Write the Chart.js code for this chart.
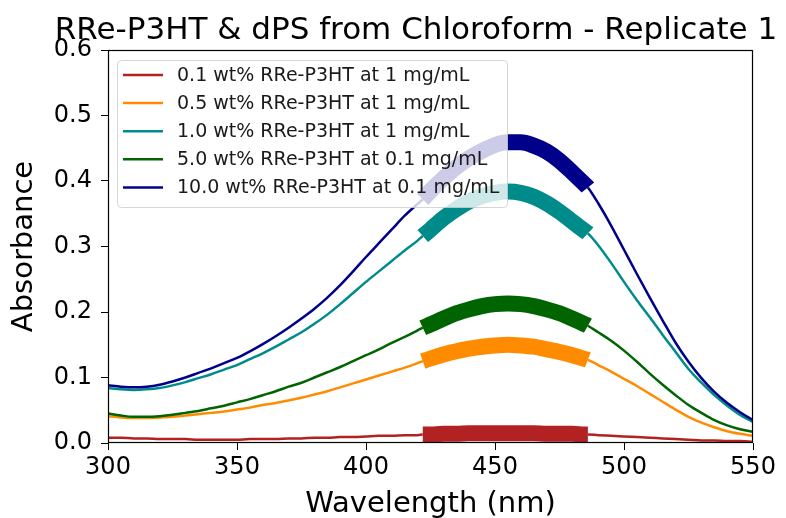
<!DOCTYPE html>
<html>
<head>
<meta charset="utf-8">
<script src="https://cdn.jsdelivr.net/npm/chart.js@4.4.1/dist/chart.umd.min.js"></script>
<style>
  html, body { margin: 0; padding: 0; background: #ffffff; }
  canvas { display: block; }
</style>
</head>
<body>
<canvas id="chart" width="786" height="518"></canvas>
<script>
// Wavelength grid (nm); 422 and 486 mark the edges of the highlighted peak band
const wavelengths = [
  300, 305, 310, 315, 320, 325, 330, 335, 340, 345, 350, 355, 360, 365, 370, 375,
  380, 385, 390, 395, 400, 405, 410, 415, 420,
  422,
  425, 430, 435, 440, 445, 450, 455, 460, 465, 470, 475, 480, 485,
  486,
  490, 495, 500, 505, 510, 515, 520, 525, 530, 535, 540, 545, 550
];

const seriesLabels = [
  '0.1 wt% RRe-P3HT at 1 mg/mL',
  '0.5 wt% RRe-P3HT at 1 mg/mL',
  '1.0 wt% RRe-P3HT at 1 mg/mL',
  '5.0 wt% RRe-P3HT at 0.1 mg/mL',
  '10.0 wt% RRe-P3HT at 0.1 mg/mL'
];

// Absorbance spectra
const abs01 = [
  .008, .008, .007, .007, .006, .006, .006, .005, .005, .005, .005, .006, .006, .006, .007, .007,
  .008, .008, .009, .009, .010, .011, .011, .012, .012,
  .013,
  .013, .014, .014, .015, .015, .015, .015, .015, .015, .014, .014, .014, .013,
  .013,
  .012, .011, .010, .009, .008, .007, .006, .005, .004, .004, .003, .003, .002
];
const abs05 = [
  .041, .039, .038, .038, .039, .040, .042, .044, .046, .048, .051, .054, .058, .061, .065, .069,
  .074, .079, .085, .091, .097, .103, .109, .115, .122,
  .125,
  .129, .135, .140, .144, .147, .149, .150, .149, .147, .143, .139, .134, .128,
  .127,
  .119, .109, .098, .087, .075, .063, .051, .040, .031, .024, .018, .014, .011
];
const abs10 = [
  .084, .082, .081, .082, .084, .088, .093, .099, .105, .112, .119, .128, .137, .147, .158, .169,
  .182, .196, .212, .229, .246, .262, .278, .294, .309,
  .316,
  .326, .343, .357, .369, .377, .382, .384, .382, .376, .366, .353, .338, .323,
  .320,
  .302, .275, .246, .218, .192, .165, .139, .113, .092, .073, .057, .043, .032
];
const abs50 = [
  .045, .042, .040, .040, .041, .043, .046, .049, .053, .057, .062, .067, .073, .079, .086, .092,
  .100, .108, .116, .125, .134, .143, .153, .162, .172,
  .176,
  .181, .190, .198, .204, .209, .212, .213, .212, .209, .204, .198, .190, .181,
  .179,
  .169, .156, .141, .124, .106, .089, .073, .058, .046, .035, .027, .021, .017
];
const abs100 = [
  .088, .086, .085, .086, .089, .094, .100, .107, .114, .122, .130, .140, .151, .163, .176, .190,
  .205, .222, .241, .262, .284, .305, .326, .347, .365,
  .372,
  .385, .404, .421, .435, .446, .455, .459, .459, .454, .445, .431, .413, .394,
  .390,
  .366, .332, .295, .258, .222, .187, .153, .124, .099, .078, .061, .047, .035
];

const xTicks = [300, 350, 400, 450, 500, 550];
const yTicks = [0.0, 0.1, 0.2, 0.3, 0.4, 0.5, 0.6];

// Peak band drawn with a heavy stroke
const bandStart = 422;
const bandEnd = 486;

const seriesValues = [abs01, abs05, abs10, abs50, abs100];
const seriesColors = ['#b22222', '#ff8c00', '#008b8b', '#006400', '#00008b'];

const FONT = "'DejaVu Sans', 'Liberation Sans', sans-serif";
const THIN = 2.5;
const THICK = 16;

const datasets = seriesValues.map((vals, i) => ({
  label: seriesLabels[i],
  data: wavelengths.map((w, k) => ({ x: w, y: vals[k] })),
  borderColor: seriesColors[i],
  backgroundColor: seriesColors[i],
  borderWidth: THIN,
  pointRadius: 0,
  fill: false,
  cubicInterpolationMode: 'monotone',
  borderCapStyle: 'butt',
  order: seriesValues.length - i,
  segment: {
    borderWidth: ctx => (ctx.p0.parsed.x >= bandStart && ctx.p1.parsed.x <= bandEnd) ? THICK : undefined
  }
}));

// Title, frame and in-plot legend
const decorations = {
  id: 'decorations',
  afterDatasetsDraw(chart) {
    const { ctx, chartArea: a } = chart;
    ctx.save();

    // frame on all four sides
    ctx.strokeStyle = '#000';
    ctx.lineWidth = 1.2;
    ctx.strokeRect(a.left + 0.5, a.top + 0.5, a.right - a.left - 1, a.bottom - a.top - 1);

    // legend box
    const bx = 117.5, by = 60.5, bw = 390, bh = 147, r = 4;
    ctx.beginPath();
    ctx.moveTo(bx + r, by);
    ctx.lineTo(bx + bw - r, by);
    ctx.quadraticCurveTo(bx + bw, by, bx + bw, by + r);
    ctx.lineTo(bx + bw, by + bh - r);
    ctx.quadraticCurveTo(bx + bw, by + bh, bx + bw - r, by + bh);
    ctx.lineTo(bx + r, by + bh);
    ctx.quadraticCurveTo(bx, by + bh, bx, by + bh - r);
    ctx.lineTo(bx, by + r);
    ctx.quadraticCurveTo(bx, by, bx + r, by);
    ctx.closePath();
    ctx.fillStyle = 'rgba(255,255,255,0.8)';
    ctx.fill();
    ctx.strokeStyle = 'rgba(204,204,204,0.8)';
    ctx.lineWidth = 1;
    ctx.stroke();

    ctx.font = '19px ' + FONT;
    ctx.textBaseline = 'middle';
    ctx.textAlign = 'left';
    seriesLabels.forEach((lab, i) => {
      const y = 75 + i * 28.1;
      ctx.strokeStyle = seriesColors[i];
      ctx.lineWidth = THIN;
      ctx.beginPath();
      ctx.moveTo(123, y);
      ctx.lineTo(163, y);
      ctx.stroke();
      ctx.fillStyle = '#1a1a1a';
      ctx.fillText(lab, 177, y + 1);
    });

    // chart title
    ctx.fillStyle = '#000';
    ctx.font = '31px ' + FONT;
    ctx.textAlign = 'center';
    ctx.textBaseline = 'alphabetic';
    ctx.fillText('RRe-P3HT & dPS from Chloroform - Replicate 1', 416, 39);

    ctx.restore();
  }
};

new Chart(document.getElementById('chart'), {
  type: 'line',
  data: { datasets },
  options: {
    responsive: false,
    devicePixelRatio: 1,
    animation: false,
    events: [],
    layout: { padding: { top: 50, right: 33, left: 0, bottom: 0 } },
    plugins: {
      legend: { display: false },
      title: { display: false },
      tooltip: { enabled: false }
    },
    scales: {
      x: {
        type: 'linear',
        min: 300,
        max: 550,
        afterBuildTicks: s => { s.ticks = xTicks.map(v => ({ value: v })); },
        afterFit: s => { s.height = 75; },
        ticks: {
          color: '#000',
          font: { family: FONT, size: 24 },
          padding: 3,
          maxRotation: 0,
          autoSkip: false
        },
        grid: { display: true, drawOnChartArea: false, drawTicks: true, tickLength: 7, color: '#000', lineWidth: 1 },
        border: { display: false },
        title: {
          display: true,
          text: 'Wavelength (nm)',
          color: '#000',
          font: { family: FONT, size: 29, lineHeight: 1 },
          padding: { top: 0, bottom: -1 }
        }
      },
      y: {
        min: 0,
        max: 0.6,
        afterBuildTicks: s => { s.ticks = yTicks.map(v => ({ value: v })); },
        afterFit: s => { s.width = 108; },
        ticks: {
          color: '#000',
          font: { family: FONT, size: 24 },
          padding: 9,
          callback: v => Number(v).toFixed(1)
        },
        grid: { display: true, drawOnChartArea: false, drawTicks: true, tickLength: 7, color: '#000', lineWidth: 1 },
        border: { display: false },
        title: {
          display: true,
          text: 'Absorbance',
          color: '#000',
          font: { family: FONT, size: 29, lineHeight: 1 },
          padding: { top: 10, bottom: 0 }
        }
      }
    }
  },
  plugins: [decorations]
});
</script>
</body>
</html>
